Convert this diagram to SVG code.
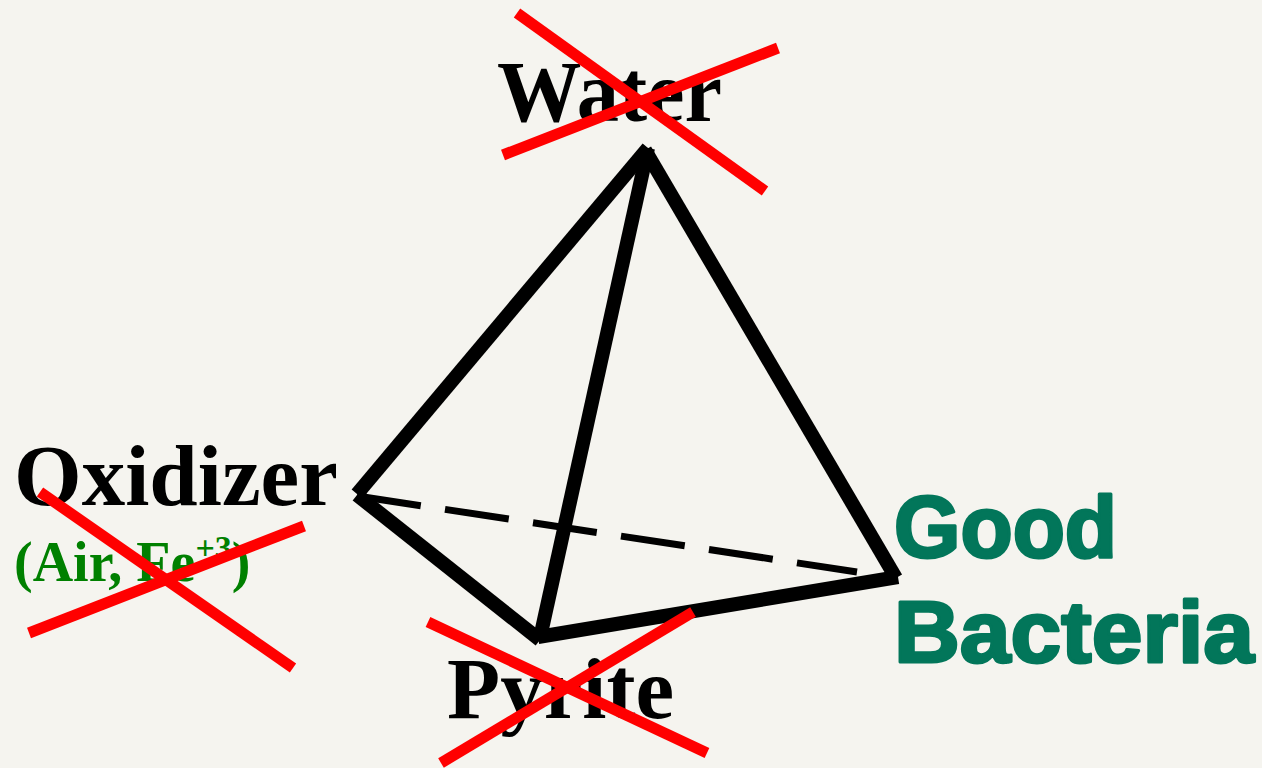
<svg xmlns="http://www.w3.org/2000/svg" width="1262" height="768" viewBox="0 0 1262 768">
<style>
.bg{fill:#f5f4ef}
.edge{stroke:#000;stroke-width:14;fill:none;stroke-linecap:butt}
.dash{stroke:#000;stroke-width:7;fill:none;stroke-dasharray:64.5 24.5}
.cross{stroke:#ff0000;stroke-width:11;stroke-linecap:butt}
.lbl{font-family:"Liberation Serif","Times New Roman",serif;font-weight:bold;font-size:87px;fill:#000}
.sub{font-family:"Liberation Serif","Times New Roman",serif;font-weight:bold;font-size:56px;fill:#008000}
.bact{font-family:"Liberation Sans",Arial,sans-serif;font-weight:bold;font-size:88px;fill:#02765a;stroke:#02765a;stroke-width:3;stroke-linejoin:round}
</style>
<rect class="bg" x="0" y="0" width="1262" height="768"/>
<g id="connectors">
<line class="dash" x1="357" y1="496" x2="857" y2="572"/>
<line class="edge" x1="648" y1="148" x2="357" y2="494"/>
<line class="edge" x1="648" y1="148" x2="540" y2="638"/>
<line class="edge" x1="645" y1="150" x2="896" y2="578"/>
<line class="edge" x1="357" y1="495" x2="540" y2="640"/>
<line class="edge" x1="538" y1="637" x2="898" y2="577"/>
</g>
<g id="water">
<text class="lbl" x="497" y="121" textLength="225" lengthAdjust="spacingAndGlyphs">Water</text>
<line class="cross" x1="517" y1="13" x2="765" y2="191"/>
<line class="cross" x1="503" y1="155" x2="778" y2="48"/>
</g>
<g id="oxidizer">
<text class="lbl" x="14" y="505">Oxidizer</text>
<text class="sub" x="14" y="581">(Air, Fe<tspan font-size="34" dy="-22">+3</tspan><tspan dy="22">)</tspan></text>
<line class="cross" x1="40" y1="492" x2="293" y2="668"/>
<line class="cross" x1="29" y1="633" x2="304" y2="526"/>
</g>
<g id="pyrite">
<text class="lbl" x="447" y="718">Pyrite</text>
<line class="cross" x1="428" y1="622" x2="707" y2="753"/>
<line class="cross" x1="441" y1="763" x2="693" y2="612"/>
</g>
<g id="bacteria">
<text class="bact" x="894" y="557" textLength="223" lengthAdjust="spacingAndGlyphs">Good</text>
<text class="bact" x="894" y="662" textLength="360" lengthAdjust="spacingAndGlyphs">Bacteria</text>
</g>
</svg>
